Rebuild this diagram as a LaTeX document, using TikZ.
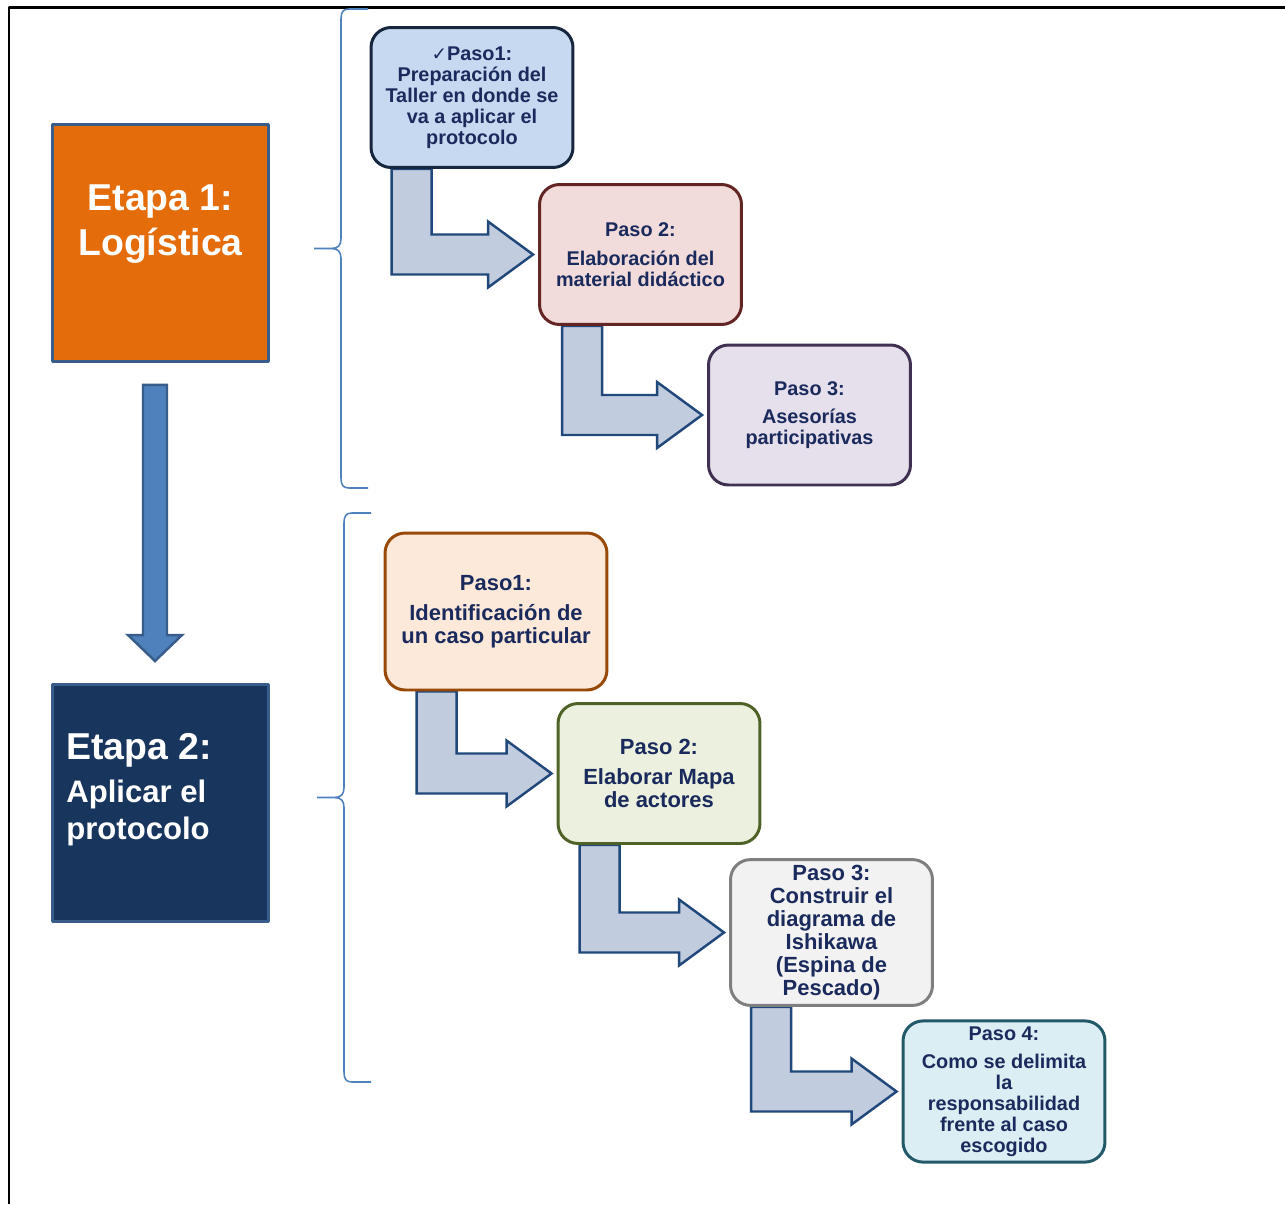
\documentclass[tikz,border=0pt]{standalone}
\usepackage{fontspec}
\setmainfont{Liberation Sans}
\newfontfamily\simbolos{DejaVu Sans}
\usetikzlibrary{calc,backgrounds}

\definecolor{naranja}{RGB}{228,108,10}
\definecolor{azuloscuro}{RGB}{24,54,93}
\definecolor{bordeetapa}{RGB}{56,93,138}
\definecolor{azulbajada}{RGB}{79,129,189}
\definecolor{rellenoflecha}{RGB}{193,204,223}
\definecolor{bordeflecha}{RGB}{33,72,122}
\definecolor{textopaso}{RGB}{26,42,92}
\definecolor{azulllave}{RGB}{79,129,189}

\tikzset{
  etapa/.style={draw=bordeetapa, line width=1.7pt, minimum width=4.32cm, minimum height=4.74cm},
  tituloetapa/.style={text=white, inner sep=0pt, font=\bfseries\fontsize{21.3}{25.5}\selectfont},
  paso/.style={rounded corners=0.4cm, line width=1.7pt, minimum width=4.04cm, minimum height=2.8cm,
    align=center, text=textopaso, font=\bfseries\fontsize{11.3}{11.9}\selectfont},
  pasogrande/.style={paso, font=\bfseries\fontsize{12.5}{13}\selectfont},
  flecha/.style={draw=bordeflecha, fill=rellenoflecha, line width=1.4pt, line join=miter},
  bajada/.style={draw=bordeetapa, fill=azulbajada, line width=1.4pt, line join=miter},
  llave/.style={draw=azulllave, line width=0.9pt},
}

% flecha doblada de un paso al siguiente
\newcommand{\flecha}[3]{%
  \coordinate (punta) at ($(#2.west)+(-5,0)$);
  \coordinate (codo) at (#1.south west |- punta);
  \draw[flecha] ($(#1.south west)+(#3,0)$) -- ($(codo)+(#3,20)$) -- ($(punta)+(-45,20)$)
    -- ($(punta)+(-45,33)$) -- (punta) -- ($(punta)+(-45,-33)$) -- ($(punta)+(-45,-20)$)
    -- ($(codo)+(#3+40,-20)$) -- ($(#1.south west)+(#3+40,0)$) -- cycle;}

% llave: x, arriba, abajo
\newcommand{\llave}[3]{%
  \pgfmathsetmacro\medio{(#2+#3)/2}
  \draw[llave] (#1+27,#2) -- (#1+8,#2) .. controls (#1+2,#2) and (#1,#2+3) .. (#1,#2+10)
    -- (#1,\medio-10) .. controls (#1,\medio-3) and (#1-3,\medio) .. (#1-10,\medio) -- (#1-27,\medio)
    (#1-10,\medio) .. controls (#1-3,\medio) and (#1,\medio+3) .. (#1,\medio+10)
    -- (#1,#3-10) .. controls (#1,#3-3) and (#1+2,#3) .. (#1+8,#3) -- (#1+27,#3);}

\begin{document}
\begin{tikzpicture}[x=0.02cm, y=-0.02cm, line join=round]
\useasboundingbox (0,0) rectangle (1285,1204);
% marco
\draw[line width=1.5pt] (1285,7.5) -- (9,7.5) -- (9,1204);

% etapas
\node[etapa, fill=naranja] (e1) at (160.5,243) {};
\node[etapa, fill=azuloscuro] (e2) at (160.5,803) {};
\node[tituloetapa, align=center] (t1) at (160.5,224) {Etapa 1:\\Logística};
\node[tituloetapa, anchor=north west, align=left, font=\bfseries\fontsize{17.7}{21}\selectfont] (t2) at (66,733)
  {{\fontsize{21.3}{21}\selectfont Etapa 2:}\\[3.4pt]Aplicar el\\protocolo};

\draw[bajada] ($(e1.south)+(-17.5,22)$) -- ($(e2.north)+(-17.5,-48)$) -- ($(e2.north)+(-32.5,-48)$)
  -- ($(e2.north)+(-5.5,-22)$) -- ($(e2.north)+(21.5,-48)$) -- ($(e2.north)+(6.5,-48)$)
  -- ($(e1.south)+(6.5,22)$) -- cycle;

% llaves
\llave{341}{9}{488}
\llave{344}{513}{1082}

% pasos de la etapa 1
\node[paso, fill={rgb,255:red,198;green,217;blue,241}, draw={rgb,255:red,22;green,38;blue,62}] (p1) at (472,97.5)
  {{\simbolos\mdseries\fontsize{10.5}{10}\selectfont ✓}Paso1:\\Preparación del\\Taller en donde se\\va a aplicar el\\protocolo};
\node[paso, fill={rgb,255:red,242;green,220;blue,219}, draw={rgb,255:red,99;green,37;blue,35}] (p2) at (640.5,254.5)
  {Paso 2:\\[4.5pt]Elaboración del\\material didáctico};
\node[paso, fill={rgb,255:red,230;green,224;blue,236}, draw={rgb,255:red,64;green,49;blue,82}] (p3) at (809.5,415)
  {Paso 3:\\[4.5pt]Asesorías\\participativas};

% pasos de la etapa 2
\node[pasogrande, minimum width=4.44cm, minimum height=3.14cm, fill={rgb,255:red,253;green,233;blue,217}, draw={rgb,255:red,152;green,72;blue,7}] (q1) at (496,611.5)
  {Paso1:\\[4pt]Identificación de\\un caso particular};
\node[pasogrande, fill={rgb,255:red,235;green,241;blue,222}, draw={rgb,255:red,79;green,98;blue,40}] (q2) at (659,773.5)
  {Paso 2:\\[4pt]Elaborar Mapa\\de actores};
\node[pasogrande, fill={rgb,255:red,242;green,242;blue,242}, draw={rgb,255:red,127;green,127;blue,127}] (q3) at (831.5,932.5)
  {Paso 3:\\Construir el\\diagrama de\\Ishikawa\\(Espina de\\Pescado)};
\node[paso, fill={rgb,255:red,219;green,238;blue,244}, draw={rgb,255:red,33;green,89;blue,104}] (q4) at (1004,1091.5)
  {Paso 4:\\[4pt]Como se delimita\\la\\responsabilidad\\frente al caso\\escogido};

% flechas entre pasos
\begin{scope}[on background layer]
\flecha{p1}{p2}{22}
\flecha{p2}{p3}{24}
\flecha{q1}{q2}{33}
\flecha{q2}{q3}{23}
\flecha{q3}{q4}{22}
\end{scope}
\end{tikzpicture}
\end{document}
